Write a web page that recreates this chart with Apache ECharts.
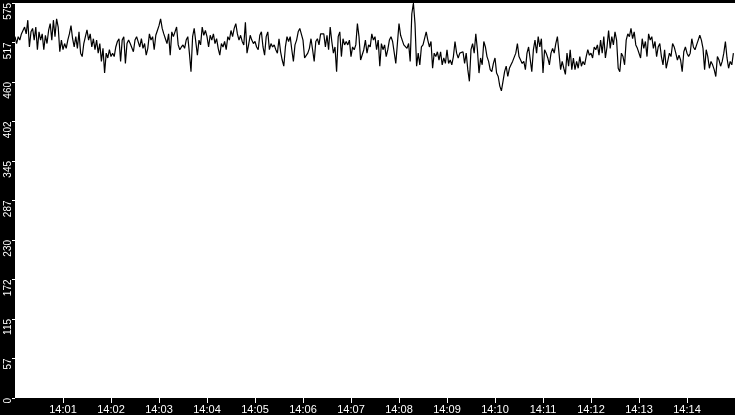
<!DOCTYPE html>
<html>
<head>
<meta charset="utf-8">
<title>trace</title>
<script src="https://cdn.jsdelivr.net/npm/echarts@6.0.0/dist/echarts.min.js"></script>
<style>
  html, body { margin: 0; padding: 0; background: #000; }
  #chart { width: 735px; height: 415px; }
</style>
</head>
<body>
<div id="chart"></div>
<script>
// consecutive samples, one every 2 seconds from 14:00:00
const SAMPLE_STEP = 2
const trace1 = [526, 516, 526, 521, 530, 528, 540, 530, 550, 511, 533, 538, 521, 540, 507, 533, 521, 530, 507, 528,
  516, 535, 545, 521, 550, 526, 552, 540, 504, 521, 507, 516, 509, 521, 530, 542, 523, 511, 526, 509,
  533, 502, 497, 516, 526, 536, 521, 530, 511, 523, 507, 521, 502, 516, 490, 509, 473, 502, 495, 507,
  497, 502, 497, 511]
const trace2 = [519, 523, 490, 521, 526, 487, 516, 521, 516, 514, 504, 521, 526, 528, 511, 523, 509, 516, 499, 509,
  530, 521, 526, 507, 528, 535, 542, 552, 538, 530, 523, 516, 530, 499, 533, 526, 533, 540, 514, 507,
  511, 514, 509]
const trace3 = [521, 526, 502, 475, 526, 538, 540, 499, 521, 514, 540, 528, 535, 526, 511, 528, 521, 530, 516, 523,
  509, 499, 516, 511, 519, 507, 526, 521, 535, 526, 538, 545, 530, 521, 528, 519, 514, 547, 502, 514,
  528, 521, 516]
const trace4 = [519, 511, 507, 528, 533, 511, 499, 526, 533, 507, 516, 511, 514, 507, 502, 523, 504, 492, 483, 511,
  526, 519, 526, 507, 490, 514, 521, 533, 538, 540, 521, 495, 497, 502, 509, 523, 507, 490, 519, 523,
  514, 530, 528]
const trace5 = [530, 511, 528, 507, 540, 519, 502, 511, 475, 526, 533, 497, 523, 514, 519, 514, 521, 497, 511, 507,
  514, 545, 526, 492, 490, 507, 521, 502, 514, 511, 530, 521, 526, 507, 521, 483, 516, 507, 514, 497,
  507, 521, 526]
const trace6 = [519, 521, 487, 516, 545, 528, 521, 514, 516, 509, 516, 490, 559, 575, 545, 483, 502, 485, 511, 514,
  516, 533, 521, 511, 519, 480, 502, 497, 504, 492, 504, 485, 495, 487, 507, 487, 492, 485, 497, 519,
  502, 495, 502]
const trace7 = [502, 504, 487, 502, 478, 461, 507, 516, 502, 530, 507, 473, 495, 485, 519, 511, 497, 490, 478, 475,
  487, 495, 473, 468, 454, 447, 461, 475, 483, 468, 480, 485, 490, 492, 502, 516, 497, 499, 487, 490,
  478, 502, 511]
const trace8 = [511, 475, 507, 521, 502, 526, 511, 523, 473, 507, 502, 495, 485, 502, 509, 502, 516, 526, 502, 478,
  490, 480, 471, 502, 483, 507, 478, 495, 478, 490, 480, 497, 483, 490, 485, 497, 507, 499, 502, 495,
  511, 507, 514]
const trace9 = [499, 521, 502, 526, 495, 511, 535, 509, 526, 514, 533, 521, 480, 475, 502, 497, 485, 521, 530, 526,
  538, 523, 533, 514, 509, 507, 495, 523, 509, 519, 497, 530, 521, 526, 509, 519, 497, 511, 516, 497,
  485, 507, 480]
const trace10 = [480, 502, 497, 516, 511, 502, 492, 499, 492, 475, 504, 511, 502, 497, 502, 523, 511, 507, 514, 521,
  528, 521, 509, 478, 507, 497, 480, 490, 485, 478, 468, 497, 492, 483, 490, 502, 519, 495, 480, 490,
  485, 502]

const xTickLabels = ['14:00', '14:01', '14:02', '14:03', '14:04', '14:05', '14:06', '14:07',
  '14:08', '14:09', '14:10', '14:11', '14:12', '14:13', '14:14', '14:15']
const yTickLabels = ['0', '57', '115', '172', '230', '287', '345', '402', '460', '517', '575']

const values = [].concat(trace1, trace2, trace3, trace4, trace5, trace6, trace7, trace8, trace9, trace10)
const data = values.map((v, i) => [i * SAMPLE_STEP, v])

const Y_MAX = 575
const Y_STEP = Y_MAX / (yTickLabels.length - 1)
const X_MAX = (xTickLabels.length - 1) * 60
const xTicks = xTickLabels.map((l, i) => i * 60).slice(1, -1)

const chart = echarts.init(document.getElementById('chart'))
chart.setOption({
  animation: false,
  backgroundColor: '#000',
  grid: {
    left: 15,
    right: 0,
    top: 0,
    bottom: 16,
    show: true,
    backgroundColor: '#fff',
    borderWidth: 0
  },
  xAxis: {
    type: 'value',
    min: 0,
    max: X_MAX,
    interval: 60,
    axisLine: { show: false },
    splitLine: { show: false },
    axisTick: {
      show: true,
      length: 5,
      customValues: xTicks,
      lineStyle: { color: '#fff', width: 1 }
    },
    axisLabel: {
      customValues: xTicks,
      color: '#fff',
      fontFamily: 'Liberation Sans',
      fontSize: 11,
      margin: 6,
      formatter: (v) => xTickLabels[Math.round(v / 60)]
    }
  },
  yAxis: {
    type: 'value',
    min: 0,
    max: Y_MAX,
    interval: Y_STEP,
    axisLine: { show: false },
    splitLine: { show: false },
    axisTick: {
      show: true,
      length: 3,
      lineStyle: { color: '#fff', width: 1 }
    },
    axisLabel: {
      color: '#fff',
      fontFamily: 'Liberation Sans',
      fontSize: 10,
      rotate: 90,
      align: 'right',
      margin: 2,
      formatter: (v) => yTickLabels[Math.round(v / Y_STEP)]
    }
  },
  series: [{
    type: 'line',
    data,
    showSymbol: false,
    sampling: null,
    clip: true,
    lineStyle: { color: '#000', width: 1.2 }
  }]
})
</script>
</body>
</html>
